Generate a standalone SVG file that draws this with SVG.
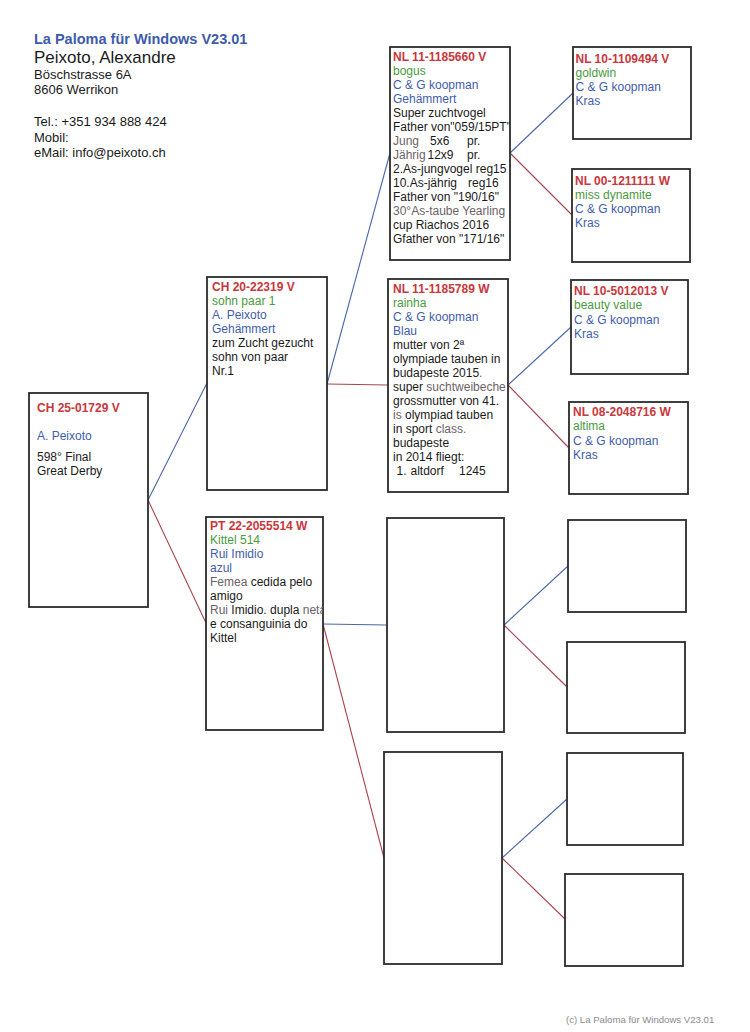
<svg xmlns="http://www.w3.org/2000/svg" width="750" height="1032" viewBox="0 0 750 1032">
<style>
.bg{fill:#ffffff}
.box{fill:#ffffff;stroke:#2b2b2b;stroke-width:1.8}
text{font-family:"Liberation Sans",Arial,sans-serif;font-size:12px;fill:#1a1a1a}
.id{font-weight:bold;fill:#c9373c}
.nm{fill:#4a9a3e}
.br{fill:#3f5cab}
.gr{fill:#6b6266}
.cb{stroke:#4a66a8;stroke-width:1.1;fill:none}
.cr{stroke:#a8434e;stroke-width:1.1;fill:none}
.hd{fill:#1a1a1a}
</style>
<defs>
<clipPath id="c4"><rect x="390" y="47" width="120" height="213"/></clipPath>
<clipPath id="c3"><rect x="206" y="517" width="117" height="213"/></clipPath>
</defs>
<rect class="bg" x="0" y="0" width="750" height="1032"/>

<g id="header">
<text x="34" y="44" style="font-size:14.5px;font-weight:bold;fill:#3d5bab">La Paloma für Windows V23.01</text>
<text x="34" y="63" style="font-size:17px">Peixoto, Alexandre</text>
<text x="34" y="79" style="font-size:13px">Böschstrasse 6A</text>
<text x="34" y="94" style="font-size:13px">8606 Werrikon</text>
<text x="34" y="126" style="font-size:13px">Tel.: +351 934 888 424</text>
<text x="34" y="141.5" style="font-size:13px">Mobil:</text>
<text x="34" y="157" style="font-size:13px">eMail: info@peixoto.ch</text>
</g>

<g id="connectors">
<line class="cb" x1="148" y1="500" x2="207" y2="383"/>
<line class="cr" x1="148" y1="500" x2="206" y2="623"/>
<line class="cb" x1="327" y1="384" x2="390" y2="153"/>
<line class="cr" x1="327" y1="384" x2="388" y2="385"/>
<line class="cb" x1="323" y1="624" x2="387" y2="625"/>
<line class="cr" x1="323" y1="624" x2="384" y2="858"/>
<line class="cb" x1="510" y1="153" x2="573" y2="93"/>
<line class="cr" x1="510" y1="153" x2="572" y2="215"/>
<line class="cb" x1="508" y1="385" x2="571" y2="327"/>
<line class="cr" x1="508" y1="385" x2="569" y2="448"/>
<line class="cb" x1="504" y1="625" x2="568" y2="566"/>
<line class="cr" x1="504" y1="625" x2="567" y2="687"/>
<line class="cb" x1="502" y1="858" x2="567" y2="799"/>
<line class="cr" x1="502" y1="858" x2="565" y2="919"/>
</g>

<g id="n1">
<rect class="box" x="29" y="393" width="119" height="214"/>
<text x="37" y="412" class="id">CH 25-01729 V</text>
<text x="37" y="440" class="br">A. Peixoto</text>
<text x="37" y="461">598° Final</text>
<text x="37" y="475">Great Derby</text>
</g>

<g id="n2">
<rect class="box" x="207" y="277" width="120" height="213"/>
<text x="212" y="290.5" class="id">CH 20-22319 V</text>
<text x="212" y="304.5" class="nm">sohn paar 1</text>
<text x="212" y="318.5" class="br">A. Peixoto</text>
<text x="212" y="332.5" class="br">Gehämmert</text>
<text x="212" y="346.5">zum Zucht gezucht</text>
<text x="212" y="360.5">sohn von paar</text>
<text x="212" y="374.5">Nr.1</text>
</g>

<g id="n3">
<rect class="box" x="206" y="517" width="117" height="213"/>
<g clip-path="url(#c3)">
<text x="210" y="529.5" class="id">PT 22-2055514 W</text>
<text x="210" y="543.5" class="nm">Kittel 514</text>
<text x="210" y="557.5" class="br">Rui Imidio</text>
<text x="210" y="571.5" class="br">azul</text>
<text x="210" y="585.5"><tspan class="gr">Femea</tspan> cedida pelo</text>
<text x="210" y="599.5">amigo</text>
<text x="210" y="613.5"><tspan class="gr">Rui</tspan> Imidio. dupla <tspan class="gr">neta</tspan></text>
<text x="210" y="627.5">e consanguinia do</text>
<text x="210" y="641.5">Kittel</text>
</g>
</g>

<g id="n4">
<rect class="box" x="390" y="47" width="120" height="213"/>
<g clip-path="url(#c4)">
<text x="393" y="61" class="id">NL 11-1185660 V</text>
<text x="393" y="75" class="nm">bogus</text>
<text x="393" y="89" class="br">C &amp; G koopman</text>
<text x="393" y="103" class="br">Gehämmert</text>
<text x="393" y="117">Super zuchtvogel</text>
<text x="393" y="131">Father von"059/15PT"</text>
<text y="145"><tspan x="393" class="gr">Jung</tspan><tspan x="430">5x6</tspan><tspan x="467">pr.</tspan></text>
<text y="159"><tspan x="393" class="gr">Jährig</tspan><tspan x="427.5">12x9</tspan><tspan x="467">pr.</tspan></text>
<text x="393" y="173">2.As-jungvogel reg15</text>
<text y="187"><tspan x="393">10.As-jährig</tspan><tspan x="468">reg16</tspan></text>
<text x="393" y="201">Father von "190/16"</text>
<text x="393" y="215" class="gr">30°As-taube Yearling</text>
<text x="393" y="229">cup Riachos 2016</text>
<text x="393" y="243">Gfather von "171/16"</text>
</g>
</g>

<g id="n5">
<rect class="box" x="388" y="279" width="120" height="213"/>
<text x="393" y="293" class="id">NL 11-1185789 W</text>
<text x="393" y="307" class="nm">rainha</text>
<text x="393" y="321" class="br">C &amp; G koopman</text>
<text x="393" y="335" class="br">Blau</text>
<text x="393" y="349">mutter von 2ª</text>
<text x="393" y="363">olympiade tauben in</text>
<text x="393" y="377">budapeste 2015<tspan class="gr">.</tspan></text>
<text x="393" y="391">super <tspan class="gr">suchtweibeche</tspan></text>
<text x="393" y="405">grossmutter von 41.</text>
<text x="393" y="419"><tspan class="gr">is</tspan> olympiad tauben</text>
<text x="393" y="433">in sport <tspan class="gr">class.</tspan></text>
<text x="393" y="447">budapeste</text>
<text x="393" y="461">in 2014 fliegt:</text>
<text y="475"><tspan x="396.5">1.</tspan><tspan x="410.5">altdorf</tspan><tspan x="459">1245</tspan></text>
</g>

<g id="n6"><rect class="box" x="387" y="518" width="117" height="214"/></g>
<g id="n7"><rect class="box" x="384" y="752" width="118" height="212"/></g>

<g id="n8">
<rect class="box" x="573" y="47" width="118" height="92"/>
<text x="575.5" y="62.5" class="id">NL 10-1109494 V</text>
<text x="575.5" y="76.5" class="nm">goldwin</text>
<text x="575.5" y="90.5" class="br">C &amp; G koopman</text>
<text x="575.5" y="104.5" class="br">Kras</text>
</g>

<g id="n9">
<rect class="box" x="572" y="169" width="118" height="93"/>
<text x="575" y="185" class="id">NL 00-1211111 W</text>
<text x="575" y="199" class="nm">miss dynamite</text>
<text x="575" y="213" class="br">C &amp; G koopman</text>
<text x="575" y="227" class="br">Kras</text>
</g>

<g id="n10">
<rect class="box" x="571" y="280" width="117" height="94"/>
<text x="574" y="295" class="id">NL 10-5012013 V</text>
<text x="574" y="309" class="nm">beauty value</text>
<text x="574" y="323.5" class="br">C &amp; G koopman</text>
<text x="574" y="338" class="br">Kras</text>
</g>

<g id="n11">
<rect class="box" x="569" y="402" width="119" height="92"/>
<text x="573" y="416" class="id">NL 08-2048716 W</text>
<text x="573" y="430" class="nm">altima</text>
<text x="573" y="444.5" class="br">C &amp; G koopman</text>
<text x="573" y="458.5" class="br">Kras</text>
</g>

<g id="n12"><rect class="box" x="568" y="520" width="118" height="92"/></g>
<g id="n13"><rect class="box" x="567" y="642" width="118" height="91"/></g>
<g id="n14"><rect class="box" x="567" y="753" width="116" height="92"/></g>
<g id="n15"><rect class="box" x="565" y="874" width="118" height="92"/></g>

<g id="footer">
<text x="566" y="1023" style="font-size:9.6px;fill:#8a8a8a">(c) La Paloma für Windows V23.01</text>
</g>
</svg>
